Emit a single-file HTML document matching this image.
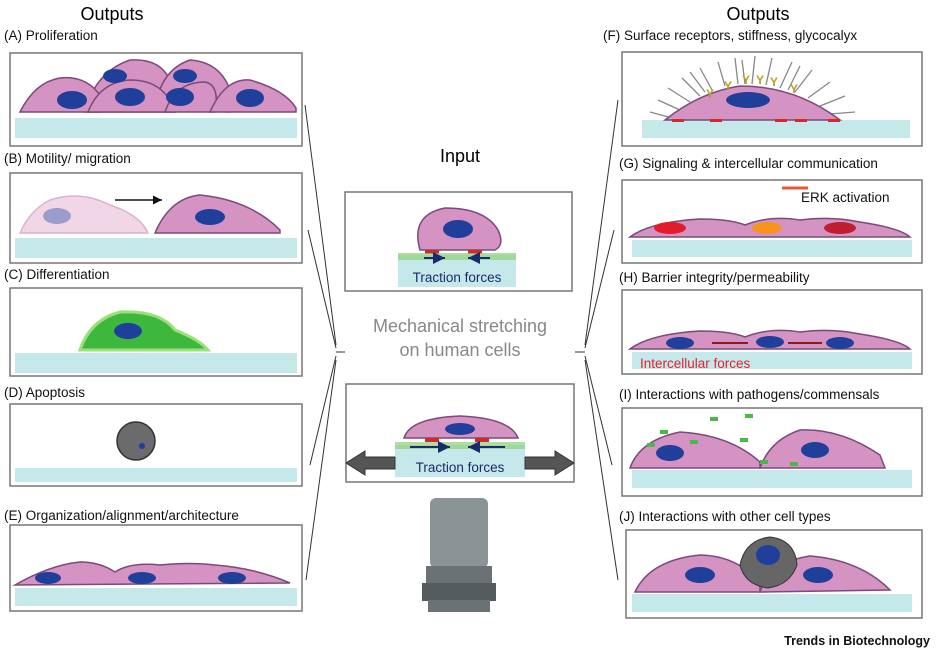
<!DOCTYPE html>
<html><head><meta charset="utf-8"><style>
html,body{margin:0;padding:0;background:#fff;}
svg{display:block;font-family:"Liberation Sans",Arial,sans-serif;}
</style></head><body>
<svg width="936" height="656" viewBox="0 0 936 656" xmlns="http://www.w3.org/2000/svg">
<defs>
<marker id="ah" markerWidth="8" markerHeight="8" refX="6" refY="3" orient="auto"><path d="M0,0 L6,3 L0,6 Z" fill="#111"/></marker>
<marker id="ahb" markerWidth="8" markerHeight="8" refX="6" refY="3" orient="auto"><path d="M0,0 L6,3 L0,6 Z" fill="#1a2a6c"/></marker>
</defs>
<g fill="none" stroke="#777" stroke-width="1.5">
<rect x="10" y="53" width="292" height="93"/>
<rect x="10" y="173" width="292" height="90"/>
<rect x="10" y="288" width="292" height="88"/>
<rect x="10" y="404" width="292" height="82"/>
<rect x="10" y="525" width="292" height="86"/>
<rect x="622" y="52" width="300" height="94"/>
<rect x="622" y="180" width="300" height="83"/>
<rect x="622" y="290" width="300" height="84"/>
<rect x="622" y="408" width="300" height="88"/>
<rect x="626" y="530" width="296" height="88"/>
<rect x="345" y="192" width="227" height="99"/>
<rect x="346" y="384" width="228" height="98"/>
</g>
<g fill="#c5e9ea">
<rect x="15" y="118" width="282" height="20"/>
<rect x="15" y="238" width="282" height="20"/>
<rect x="15" y="353" width="282" height="20"/>
<rect x="15" y="468" width="282" height="14"/>
<rect x="15" y="588" width="282" height="18"/>
<rect x="642" y="120" width="268" height="18"/>
<rect x="632" y="240" width="280" height="17"/>
<rect x="632" y="352" width="280" height="17"/>
<rect x="632" y="470" width="280" height="18"/>
<rect x="632" y="594" width="280" height="18"/>
<rect x="398" y="255" width="118" height="32"/>
<rect x="395" y="445" width="130" height="32"/>
</g>
<g fill="#000" font-size="18" text-anchor="middle">
<text x="112" y="20">Outputs</text><text x="758" y="20">Outputs</text>
<text x="460" y="162">Input</text>
</g>
<g fill="#111" font-size="13.5">
<text x="4" y="40">(A) Proliferation</text>
<text x="4" y="163">(B) Motility/ migration</text>
<text x="4" y="279">(C) Differentiation</text>
<text x="4" y="397">(D) Apoptosis</text>
<text x="4" y="520">(E) Organization/alignment/architecture</text>
<text x="603" y="40">(F) Surface receptors, stiffness, glycocalyx</text>
<text x="619" y="168">(G) Signaling &amp; intercellular communication</text>
<text x="619" y="282">(H) Barrier integrity/permeability</text>
<text x="619" y="399">(I) Interactions with pathogens/commensals</text>
<text x="619" y="521">(J) Interactions with other cell types</text>
<text x="801" y="202">ERK activation</text>
</g>
<text x="460" y="332" fill="#888" font-size="18" text-anchor="middle">Mechanical stretching</text>
<text x="460" y="356" fill="#888" font-size="18" text-anchor="middle">on human cells</text>
<text x="930" y="645" fill="#111" font-size="12.5" font-weight="bold" text-anchor="end">Trends in Biotechnology</text>
<g stroke="#333" stroke-width="1" fill="none">
<line x1="305" y1="105" x2="336" y2="345"/><line x1="308" y1="230" x2="336" y2="348"/>
<line x1="336" y1="352" x2="345" y2="352"/>
<line x1="310" y1="465" x2="336" y2="356"/><line x1="306" y1="580" x2="336" y2="360"/>
<line x1="618" y1="100" x2="585" y2="345"/><line x1="614" y1="230" x2="585" y2="348"/>
<line x1="575" y1="352" x2="585" y2="352"/>
<line x1="612" y1="465" x2="585" y2="356"/><line x1="618" y1="580" x2="585" y2="360"/>
</g>
<!-- F hairs -->
<g stroke="#888" stroke-width="1.3">
<path d="M672,118 L650,112 M680,110 L658,100 M690,102 L668,88 M700,96 L682,78 M712,90 L700,68 M725,86 L718,62 M738,84 L735,58 M752,84 L755,56 M766,85 L772,58 M780,88 L792,62 M795,92 L812,70 M808,98 L830,82 M820,106 L845,96 M830,114 L855,112 M705,92 L690,72 M745,84 L742,60 M788,90 L800,66"/>
</g>
<g stroke="#7a4a7a" stroke-width="1.5" fill="#d493c2">
<path d="M85,112 Q95,72 130,60 Q160,58 170,80 L175,112 Z"/>
<path d="M155,110 Q160,70 190,60 Q220,62 230,90 L230,112 Z"/>
<path d="M20,112 Q35,82 60,78 Q85,75 100,95 L100,112 Z"/>
<path d="M88,112 Q100,82 130,80 Q165,80 175,112 Z"/>
<path d="M165,112 Q175,82 205,82 Q220,85 215,112 Z"/>
<path d="M210,112 Q225,78 250,80 Q285,90 296,108 L296,112 Z"/>
<path d="M155,233 Q170,198 200,195 Q250,200 280,230 L280,233 Z"/>
<path d="M15,585 Q50,565 80,562 Q100,562 115,572 Q130,562 160,565 Q190,562 215,565 Q255,568 290,583 Z"/>
<path d="M420,250 Q410,215 445,208 Q485,208 498,230 Q505,245 495,250 Z"/>
<path d="M404,438 Q410,418 460,416 Q510,418 518,438 Z"/>
<path d="M665,120 Q700,92 740,86 Q795,86 840,120 Z"/>
<path d="M630,237 Q650,222 700,219 Q730,219 745,225 Q770,215 800,220 Q830,216 860,222 Q900,228 910,237 Z"/>
<path d="M630,349 Q650,334 700,331 Q730,331 745,337 Q770,327 800,332 Q830,328 860,334 Q900,340 910,349 Z"/>
<path d="M630,468 Q640,440 680,432 Q730,435 760,462 L760,468 Z"/>
<path d="M760,468 Q770,440 800,430 Q840,428 880,455 L885,468 Z"/>
<path d="M635,592 Q650,560 700,555 Q740,556 760,585 L760,592 Z"/>
<path d="M760,592 Q770,562 810,556 Q860,560 890,590 Z"/>
</g>
<path d="M20,233 Q30,210 50,200 Q80,190 110,205 Q140,215 148,233 Z" fill="#f1d6e8" stroke="#d9b2cc" stroke-width="1.5"/>
<path d="M80,350 Q90,320 120,312 Q160,310 175,330 Q200,340 208,350 Z" fill="#3db83d" stroke="#9be07a" stroke-width="3"/>
<circle cx="136" cy="441" r="19" fill="#6b6b6b" stroke="#333" stroke-width="1.5"/>
<circle cx="142" cy="446" r="3" fill="#1f3f9b"/>
<path d="M740,565 Q745,540 770,537 Q795,540 797,565 Q790,585 768,588 Q745,585 740,565 Z" fill="#666" stroke="#333"/>
<g fill="#1f3f9b">
<ellipse cx="72" cy="100" rx="15" ry="9"/><ellipse cx="130" cy="97" rx="15" ry="9"/><ellipse cx="180" cy="97" rx="14" ry="9"/><ellipse cx="250" cy="98" rx="14" ry="9"/>
<ellipse cx="115" cy="76" rx="12" ry="7"/><ellipse cx="185" cy="76" rx="12" ry="7"/>
<ellipse cx="210" cy="217" rx="15" ry="8"/>
<ellipse cx="128" cy="331" rx="14" ry="8"/>
<ellipse cx="48" cy="578" rx="13" ry="6"/><ellipse cx="142" cy="578" rx="14" ry="6"/><ellipse cx="232" cy="578" rx="14" ry="6"/>
<ellipse cx="458" cy="229" rx="15" ry="9"/><ellipse cx="460" cy="429" rx="15" ry="6"/>
<ellipse cx="748" cy="100" rx="22" ry="8"/>
<ellipse cx="680" cy="343" rx="14" ry="6"/><ellipse cx="770" cy="342" rx="14" ry="6"/><ellipse cx="840" cy="343" rx="14" ry="6"/>
<ellipse cx="670" cy="453" rx="14" ry="8"/><ellipse cx="815" cy="450" rx="14" ry="8"/>
<ellipse cx="700" cy="575" rx="15" ry="8"/><ellipse cx="818" cy="575" rx="15" ry="8"/><ellipse cx="768" cy="555" rx="12" ry="10"/>
</g>
<ellipse cx="57" cy="216" rx="14" ry="8" fill="#9a9ccc"/>
<ellipse cx="670" cy="228" rx="16" ry="6" fill="#e21d2a"/>
<ellipse cx="767" cy="228" rx="15" ry="6" fill="#f7941d"/>
<ellipse cx="840" cy="228" rx="16" ry="6" fill="#be1e2d"/>
<line x1="782" y1="188" x2="808" y2="188" stroke="#e53" stroke-width="3"/>
<line x1="115" y1="200" x2="162" y2="200" stroke="#111" stroke-width="1.5" marker-end="url(#ah)"/>
<g stroke="#8b1a1a" stroke-width="2"><line x1="712" y1="343" x2="748" y2="343"/><line x1="788" y1="343" x2="822" y2="343"/></g>
<text x="640" y="368" fill="#e0242c" font-size="13.5">Intercellular forces</text>
<g fill="#4cb84c"><rect x="660" y="430" width="8" height="4"/><rect x="690" y="440" width="8" height="4"/><rect x="710" y="417" width="8" height="4"/><rect x="740" y="438" width="8" height="4"/><rect x="745" y="414" width="8" height="4"/><rect x="760" y="460" width="8" height="4"/><rect x="790" y="462" width="8" height="4"/><rect x="647" y="443" width="8" height="4"/></g>
<g fill="#b8a020" font-size="12" font-weight="bold"><text x="706" y="98">Y</text><text x="724" y="90">Y</text><text x="742" y="84">Y</text><text x="756" y="84">Y</text><text x="770" y="86">Y</text><text x="790" y="93">Y</text></g>
<g fill="#d02a2a"><rect x="672" y="119" width="12" height="3"/><rect x="710" y="119" width="12" height="3"/><rect x="775" y="119" width="12" height="3"/><rect x="795" y="119" width="12" height="3"/><rect x="828" y="119" width="12" height="3"/>
<rect x="425" y="250" width="14" height="4"/><rect x="468" y="250" width="14" height="4"/><rect x="425" y="438" width="14" height="4"/><rect x="475" y="438" width="14" height="4"/></g>
<rect x="398" y="253" width="118" height="7" fill="#8fd07a" opacity="0.7"/>
<rect x="395" y="442" width="130" height="7" fill="#8fd07a" opacity="0.7"/>
<g stroke="#1a2a6c" stroke-width="2"><line x1="424" y1="258" x2="445" y2="258" marker-end="url(#ahb)"/><line x1="490" y1="258" x2="468" y2="258" marker-end="url(#ahb)"/>
<line x1="410" y1="447" x2="450" y2="447" marker-end="url(#ahb)"/><line x1="505" y1="447" x2="468" y2="447" marker-end="url(#ahb)"/></g>
<text x="457" y="282" fill="#1a2a6c" font-size="13.5" text-anchor="middle">Traction forces</text>
<text x="460" y="472" fill="#1a2a6c" font-size="13.5" text-anchor="middle">Traction forces</text>
<g fill="#555" stroke="#333"><path d="M395,457 L365,457 L365,451 L346,463 L365,475 L365,469 L395,469 Z"/><path d="M525,457 L555,457 L555,451 L574,463 L555,475 L555,469 L525,469 Z"/></g>
<rect x="430" y="498" width="58" height="70" rx="6" fill="#8a9396"/>
<rect x="426" y="566" width="66" height="18" fill="#6a7275"/>
<rect x="422" y="583" width="74" height="18" fill="#555c5f"/>
<rect x="428" y="600" width="62" height="12" fill="#6a7275"/>
</svg>
</body></html>
